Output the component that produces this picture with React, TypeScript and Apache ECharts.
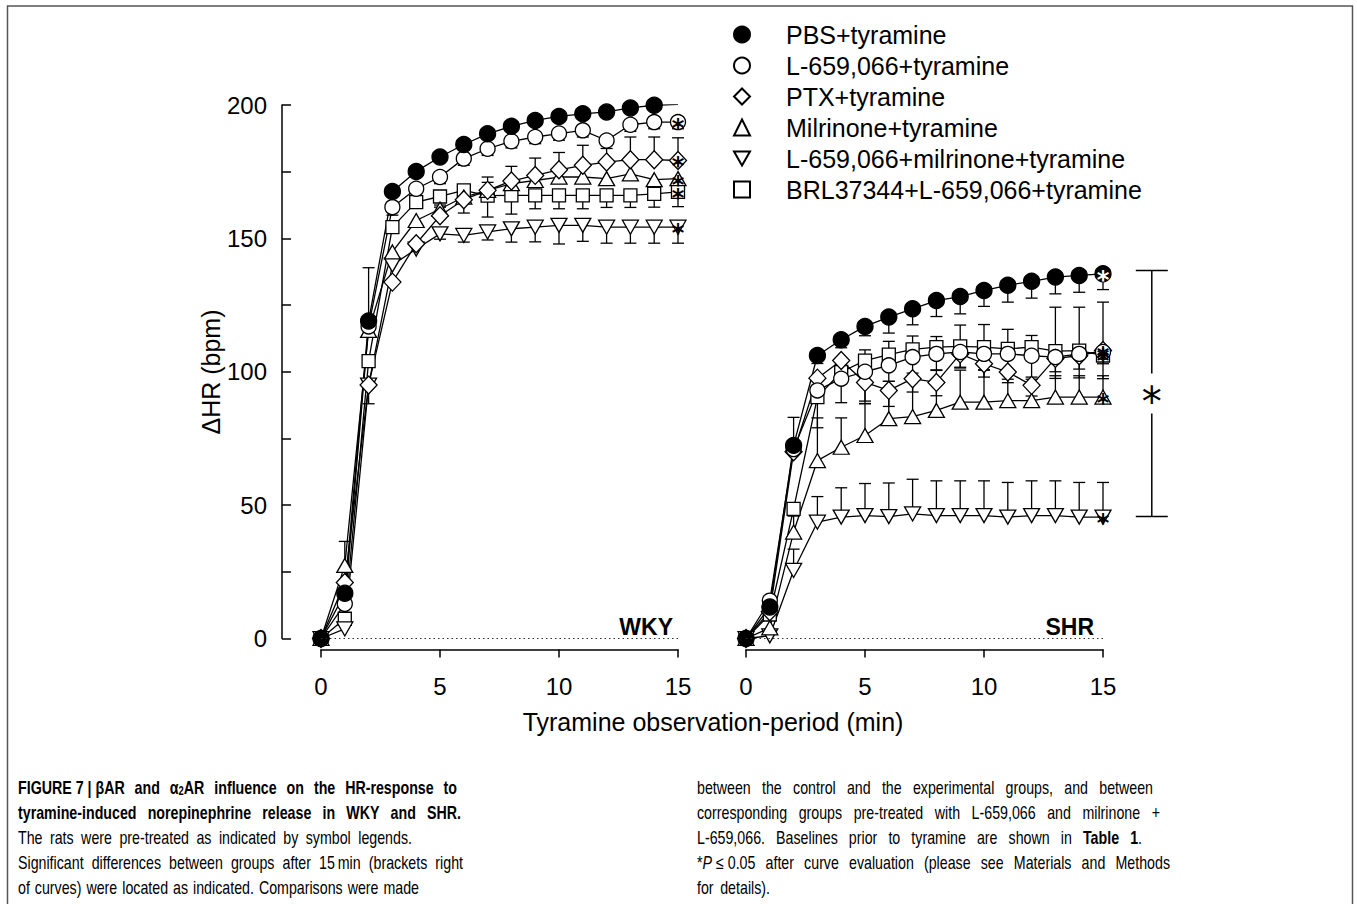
import React, { useEffect, useRef } from 'react';
import * as echarts from 'echarts';

// ---------- data ----------
const minutes = [0, 1, 2, 3, 4, 5, 6, 7, 8, 9, 10, 11, 12, 13, 14, 15];
const groupNames = [
  'PBS+tyramine',
  'L-659,066+tyramine',
  'PTX+tyramine',
  'Milrinone+tyramine',
  'L-659,066+milrinone+tyramine',
  'BRL37344+L-659,066+tyramine',
];
const yTickValues = [0, 50, 100, 150, 200];
const xTickValues = [0, 5, 10, 15];

// WKY (left panel) mean ΔHR
const wkyPBS = [0, 17, 119, 167.6, 175.1, 180.5, 185.2, 189.2, 192, 194.2, 195.7, 196.7, 197.4, 198.9, 199.9, 200.2];
const wkyL659 = [0, 13, 117, 161.7, 168.6, 173, 179.9, 183.6, 186.4, 188, 189.3, 190.5, 186.7, 192.6, 193.6, 193.6];
const wkyPTX = [0, 21, 95, 133.6, 148, 158.5, 164.5, 168, 171.5, 173.6, 175.7, 177.4, 178.6, 179.5, 179.5, 179.2];
const wkyMil = [0, 27.4, 115.5, 144.9, 156.7, 161, 165.5, 168, 170.5, 171.7, 173, 173, 172.4, 174.2, 172, 172.4];
const wkyL659Mil = [0, 3.6, 95, 140, 146, 151.7, 151.1, 152.4, 153.6, 154.2, 154.9, 154.9, 154.2, 154.2, 154.2, 154.2];
const wkyBRL = [0, 7.4, 104, 154.2, 163.6, 165.7, 168, 166, 166.1, 166.1, 166.1, 166.1, 166.1, 166.1, 166.7, 167.4];
// WKY signed SEM (+ drawn up, - drawn down)
const wkyPBSErr = [0, 0, 20, 0, 0, 0, 0, 0, 0, 0, 0, 0, 0, 0, 0, 0];
const wkyL659Err = [0, 0, 0, -3, -3, -2.5, -2.5, -2.5, -2.5, -2.5, -2.5, -2.5, -3, -2.5, -2.5, -2.5];
const wkyPTXErr = [0, 0, -7, 0, 0, 4, 5, 5, 5.5, 6.5, 6.5, 7.5, 8, 8.5, 8.5, 8.5];
const wkyMilErr = [0, 9, 0, 0, 0, 0, 3, 3, 0, 0, 0, 0, 0, 0, 0, 0];
const wkyL659MilErr = [0, 0, 0, 0, 0, -2, -2.5, -3, -5, -5.5, -7, -6, -6, -6, -6, -6];
const wkyBRLErr = [0, 0, 0, 0, -2, -4, -8.5, -8, -7, -5, -5, -5, -4.5, -4.5, -5, -5.5];

// SHR (right panel) mean ΔHR
const shrPBS = [0, 11.8, 72.4, 106.1, 112, 117, 120.5, 123.6, 126.7, 128.2, 130.5, 132.4, 133.9, 135.5, 136.1, 136.7];
const shrL659 = [0, 14.2, 71, 93, 97.4, 100, 102.4, 105.5, 106.7, 107.4, 106.7, 106.7, 106, 105.5, 106.7, 107.4];
const shrPTX = [0, 10, 70, 97.6, 104.2, 96, 93, 97.4, 96, 106.7, 103, 99.9, 94.9, 105, 106, 108];
const shrMil = [0, 4, 39.9, 66.7, 71.7, 76.1, 82.4, 83.2, 85.5, 88.6, 88.6, 89.2, 89.2, 90.5, 90.5, 90.5];
const shrL659Mil = [0, 1, 25.5, 43.6, 45.5, 46.1, 45.7, 46.7, 46.1, 46.1, 46.1, 45.5, 46.1, 46.1, 45.5, 45.5];
const shrBRL = [0, 9, 48.6, 90.5, 99.9, 104.2, 106.4, 108.4, 109.2, 109.5, 109.2, 108.6, 109.2, 107.7, 107.9, 106.1];
// SHR signed SEM
const shrPBSErr = [0, 0, 10.5, -3, -3, -3.5, -6, -6, -6, -6.5, -6, -6.3, -6.3, -6.3, -6.3, -5.9];
const shrL659Err = [0, 0, 0, -14, -9, -11, -6, -6, -6, -6, -6, -7, -8, -8, -9, -10];
const shrPTXErr = [0, 0, 0, -5, -5, -8, -6, -5, -5, -5, -5, -4, -4, -5, -5, -5];
const shrMilErr = [0, 0, 6, 16, 11, 12, 14, 15, 15, 12, 12, 8, 8, 8, 8, 8];
const shrL659MilErr = [0, 0, 8, 9.6, 11, 12, 12.6, 13, 13, 13, 13, 13, 13, 13, 13, 13];
const shrBRLErr = [0, 0, 0, 0, 0, 4, 5, 5, 4, 8, 8.5, 7.3, 4.4, 16.5, 16.3, 20];

// significance bracket for SHR at 15 min (top, bottom)
const shrBracket = [138, 45.7];
const bracketX = 17.05;

// caption
const captionLines = [
  { y: 787, x0: 18, x1: 457, bold: true, text: 'FIGURE\u00a07\u00a0|\u00a0βAR and α_2_AR influence on the HR-response to' },
  { y: 812, x0: 18, x1: 461, bold: true, text: 'tyramine-induced norepinephrine release in WKY and SHR.' },
  { y: 837, x0: 18, x1: 412, bold: false, text: 'The rats were pre-treated as indicated by symbol legends.' },
  { y: 862, x0: 18, x1: 463, bold: false, text: 'Significant differences between groups after 15\u2009min (brackets right' },
  { y: 887, x0: 18, x1: 419, bold: false, text: 'of curves) were located as indicated. Comparisons were made' },
  { y: 787, x0: 697, x1: 1153, bold: false, text: 'between the control and the experimental groups, and between' },
  { y: 812, x0: 697, x1: 1160, bold: false, text: 'corresponding groups pre-treated with L-659,066 and milrinone +' },
  { y: 837, x0: 697, x1: 1142, bold: false, text: 'L-659,066. Baselines prior to tyramine are shown in ^Table^ ^1^.' },
  { y: 862, x0: 697, x1: 1170, bold: false, text: '*~P~\u00a0≤\u00a00.05 after curve evaluation (please see Materials and Methods' },
  { y: 887, x0: 697, x1: 770, bold: false, text: 'for details).' },
];

// ---------- styles ----------
const FONT = 'Liberation Sans';
const INV_TRI = 'path://M0,0L10,0L5,8.66Z';
const symbolSpecs = [
  { symbol: 'circle', size: 16, fill: '#000' },
  { symbol: 'circle', size: 15, fill: '#fff' },
  { symbol: 'diamond', size: [17, 18], fill: '#fff' },
  { symbol: 'triangle', size: [16, 14], fill: '#fff' },
  { symbol: INV_TRI, size: [16, 14], fill: '#fff' },
  { symbol: 'rect', size: 13, fill: '#fff' },
];
const CAP_FONT = 18;
const CAP_SUB = 12;
const CAP_SCALE = 0.79;

function buildCaption(): any[] {
  const canvas = document.createElement('canvas');
  const ctx = canvas.getContext('2d') as CanvasRenderingContext2D;
  const out: any[] = [];
  for (const line of captionLines) {
    const words = line.text.split(' ');
    const parsed = words.map((w) => {
      const segs: { t: string; b: boolean; i: boolean; s: boolean }[] = [];
      let b = line.bold;
      let it = false;
      let s = false;
      let cur = '';
      const push = () => {
        if (cur) {
          segs.push({ t: cur, b, i: it, s });
          cur = '';
        }
      };
      for (const ch of w) {
        if (ch === '^') { push(); b = !b; }
        else if (ch === '~') { push(); it = !it; }
        else if (ch === '_') { push(); s = !s; }
        else cur += ch;
      }
      push();
      let width = 0;
      const ms = segs.map((sg) => {
        const size = sg.s ? CAP_SUB : CAP_FONT;
        ctx.font = `${sg.i ? 'italic ' : ''}${sg.b ? 'bold ' : ''}${size}px "${FONT}"`;
        const wd = ctx.measureText(sg.t).width * CAP_SCALE;
        width += wd;
        return { ...sg, w: wd, size };
      });
      return { segs: ms, width };
    });
    const total = parsed.reduce((a, p) => a + p.width, 0);
    const gap = parsed.length > 1 ? (line.x1 - line.x0 - total) / (parsed.length - 1) : 0;
    let x = line.x0;
    for (const p of parsed) {
      for (const sg of p.segs) {
        out.push({
          type: 'text',
          x,
          y: line.y + (sg.s ? 4 : 0),
          scaleX: CAP_SCALE,
          silent: true,
          style: {
            text: sg.t,
            fill: '#000',
            fontSize: sg.size,
            fontFamily: FONT,
            fontWeight: sg.b ? 'bold' : 'normal',
            fontStyle: sg.i ? 'italic' : 'normal',
            align: 'left',
            verticalAlign: 'middle',
            textAlign: 'left',
            textVerticalAlign: 'middle',
          },
        });
        x += sg.w;
      }
      x += gap;
    }
  }
  return out;
}

function lineSeries(name: string, vals: number[], gi: number, idx: number, withBaseline: boolean) {
  const spec = symbolSpecs[idx];
  const last = minutes.length - 1;
  const s: any = {
    type: 'line',
    name,
    xAxisIndex: gi,
    yAxisIndex: gi,
    z: 3,
    symbol: spec.symbol,
    symbolSize: spec.size,
    showAllSymbol: true,
    silent: true,
    emphasis: { disabled: true },
    lineStyle: { color: '#000', width: 1.3 },
    itemStyle: { color: spec.fill, borderColor: '#000', borderWidth: 1.3, opacity: 1 },
    data: minutes.map((m, i) =>
      i === last
        ? {
            value: [m, vals[i]],
            label: {
              show: true,
              position: 'inside',
              formatter: '*',
              color: idx === 0 ? '#fff' : '#000',
              fontSize: 24,
              fontWeight: 'bold',
              fontFamily: 'DejaVu Sans',
              offset: [0, 6],
            },
          }
        : [m, vals[i]]
    ),
  };
  if (withBaseline) {
    s.markLine = {
      silent: true,
      symbol: 'none',
      label: { show: false },
      lineStyle: { color: '#333', width: 1, type: [1.5, 3] },
      data: [[{ coord: [minutes[0], 0] }, { coord: [minutes[last], 0] }]],
    };
  }
  return s;
}

function errSeries(vals: number[], errs: number[], gi: number) {
  return {
    type: 'custom',
    xAxisIndex: gi,
    yAxisIndex: gi,
    z: 2,
    silent: true,
    data: minutes.map((m, i) => [m, vals[i], errs[i]]).filter((d) => d[2] !== 0),
    encode: { x: 0, y: 1 },
    renderItem: (_p: any, api: any) => {
      const x = api.value(0);
      const y = api.value(1);
      const e = api.value(2);
      const p0 = api.coord([x, y]);
      const p1 = api.coord([x, y + e]);
      const st = { stroke: '#000', lineWidth: 1.3 };
      return {
        type: 'group',
        children: [
          { type: 'line', shape: { x1: p0[0], y1: p0[1], x2: p1[0], y2: p1[1] }, style: st },
          { type: 'line', shape: { x1: p1[0] - 6, y1: p1[1], x2: p1[0] + 6, y2: p1[1] }, style: st },
        ],
      };
    },
  };
}

export default function App() {
  const ref = useRef<HTMLDivElement>(null);
  useEffect(() => {
    if (!ref.current) return;
    const chart = echarts.init(ref.current, null, { renderer: 'svg' });

    const wkyVals = [wkyPBS, wkyL659, wkyPTX, wkyMil, wkyL659Mil, wkyBRL];
    const wkyErrs = [wkyPBSErr, wkyL659Err, wkyPTXErr, wkyMilErr, wkyL659MilErr, wkyBRLErr];
    const shrVals = [shrPBS, shrL659, shrPTX, shrMil, shrL659Mil, shrBRL];
    const shrErrs = [shrPBSErr, shrL659Err, shrPTXErr, shrMilErr, shrL659MilErr, shrBRLErr];

    const drawOrder = [5, 4, 3, 2, 1, 0];
    const series: any[] = [];
    [wkyVals, shrVals].forEach((vals, gi) => {
      const errs = gi === 0 ? wkyErrs : shrErrs;
      drawOrder.forEach((k) => series.push(errSeries(vals[k], errs[k], gi)));
      drawOrder.forEach((k) => series.push(lineSeries(groupNames[k], vals[k], gi, k, k === 0)));
    });

    series.push({
      type: 'custom',
      xAxisIndex: 1,
      yAxisIndex: 1,
      silent: true,
      clip: false,
      data: [[bracketX, shrBracket[0], shrBracket[1]]],
      renderItem: (_p: any, api: any) => {
        const t = api.coord([api.value(0), api.value(1)]);
        const b = api.coord([api.value(0), api.value(2)]);
        const x = t[0];
        const mid = (t[1] + b[1]) / 2;
        const st = { stroke: '#000', lineWidth: 1.5 };
        return {
          type: 'group',
          children: [
            { type: 'line', shape: { x1: x - 16, y1: t[1], x2: x + 16, y2: t[1] }, style: st },
            { type: 'line', shape: { x1: x - 16, y1: b[1], x2: x + 16, y2: b[1] }, style: st },
            { type: 'line', shape: { x1: x, y1: t[1], x2: x, y2: mid - 20 }, style: st },
            { type: 'line', shape: { x1: x, y1: mid + 20, x2: x, y2: b[1] }, style: st },
            {
              type: 'text',
              x,
              y: mid + 9,
              style: {
                text: '*',
                fill: '#000',
                fontSize: 40,
                fontFamily: 'DejaVu Sans',
                align: 'center',
                verticalAlign: 'middle',
                textAlign: 'center',
                textVerticalAlign: 'middle',
              },
            },
          ],
        };
      },
    });

    const axisLineStyle = { color: '#000', width: 1.5 };
    const xAxisBase = (gi: number) => ({
      type: 'value',
      gridIndex: gi,
      min: xTickValues[0],
      max: xTickValues[xTickValues.length - 1],
      interval: xTickValues[1] - xTickValues[0],
      offset: 11,
      axisLine: { show: true, onZero: false, lineStyle: axisLineStyle },
      axisTick: { show: true, inside: false, length: 8, lineStyle: axisLineStyle },
      axisLabel: { fontSize: 24, color: '#000', margin: 25, fontFamily: FONT },
      splitLine: { show: false },
    });

    const option: any = {
      animation: false,
      backgroundColor: '#fff',
      textStyle: { fontFamily: FONT },
      grid: [
        { left: 321, top: 105, width: 357, height: 533.5 },
        { left: 746, top: 105, width: 357, height: 533.5 },
      ],
      xAxis: [xAxisBase(0), xAxisBase(1)],
      yAxis: [
        {
          type: 'value',
          gridIndex: 0,
          min: yTickValues[0],
          max: yTickValues[yTickValues.length - 1],
          interval: yTickValues[1] - yTickValues[0],
          offset: 39,
          axisLine: { show: true, onZero: false, lineStyle: axisLineStyle },
          axisTick: { show: true, inside: true, length: 9, lineStyle: axisLineStyle },
          minorTick: { show: true, splitNumber: 2, length: 9, lineStyle: axisLineStyle },
          axisLabel: { fontSize: 24, color: '#000', margin: 15, fontFamily: FONT },
          splitLine: { show: false },
          minorSplitLine: { show: false },
        },
        {
          type: 'value',
          gridIndex: 1,
          min: yTickValues[0],
          max: yTickValues[yTickValues.length - 1],
          show: false,
          splitLine: { show: false },
        },
      ],
      legend: {
        data: groupNames.map((n, i) => ({ name: n, icon: symbolSpecs[i].symbol })),
        orient: 'vertical',
        left: 728,
        top: 17,
        itemWidth: 16,
        itemHeight: 16,
        itemGap: 6,
        selectedMode: false,
        textStyle: { fontSize: 25, color: '#000', fontFamily: FONT, padding: [0, 0, 0, 31] },
      },
      series,
      graphic: [
        {
          type: 'rect',
          silent: true,
          z: -10,
          shape: { x: 7.5, y: 6, width: 1345, height: 930 },
          style: { fill: 'none', stroke: '#555', lineWidth: 1.5 },
        },
        {
          type: 'text',
          x: 211,
          y: 372,
          rotation: Math.PI / 2,
          silent: true,
          style: {
            text: 'ΔHR (bpm)',
            fill: '#000',
            fontSize: 25,
            fontFamily: FONT,
            align: 'center',
            verticalAlign: 'middle',
            textAlign: 'center',
            textVerticalAlign: 'middle',
          },
        },
        {
          type: 'text',
          x: 713,
          y: 722,
          silent: true,
          style: {
            text: 'Tyramine observation-period (min)',
            fill: '#000',
            fontSize: 25,
            fontFamily: FONT,
            align: 'center',
            verticalAlign: 'middle',
            textAlign: 'center',
            textVerticalAlign: 'middle',
          },
        },
        {
          type: 'text',
          x: 673,
          y: 627,
          silent: true,
          style: {
            text: 'WKY',
            fill: '#000',
            fontSize: 23,
            fontWeight: 'bold',
            fontFamily: FONT,
            align: 'right',
            verticalAlign: 'middle',
            textAlign: 'right',
            textVerticalAlign: 'middle',
          },
        },
        {
          type: 'text',
          x: 1094,
          y: 627,
          silent: true,
          style: {
            text: 'SHR',
            fill: '#000',
            fontSize: 23,
            fontWeight: 'bold',
            fontFamily: FONT,
            align: 'right',
            verticalAlign: 'middle',
            textAlign: 'right',
            textVerticalAlign: 'middle',
          },
        },
        ...buildCaption(),
      ],
    };
    chart.setOption(option);
    return () => chart.dispose();
  }, []);
  return (
    <div
      ref={ref}
      style={{ position: 'absolute', left: 0, top: 0, width: 1357, height: 904, background: '#fff' }}
    />
  );
}
